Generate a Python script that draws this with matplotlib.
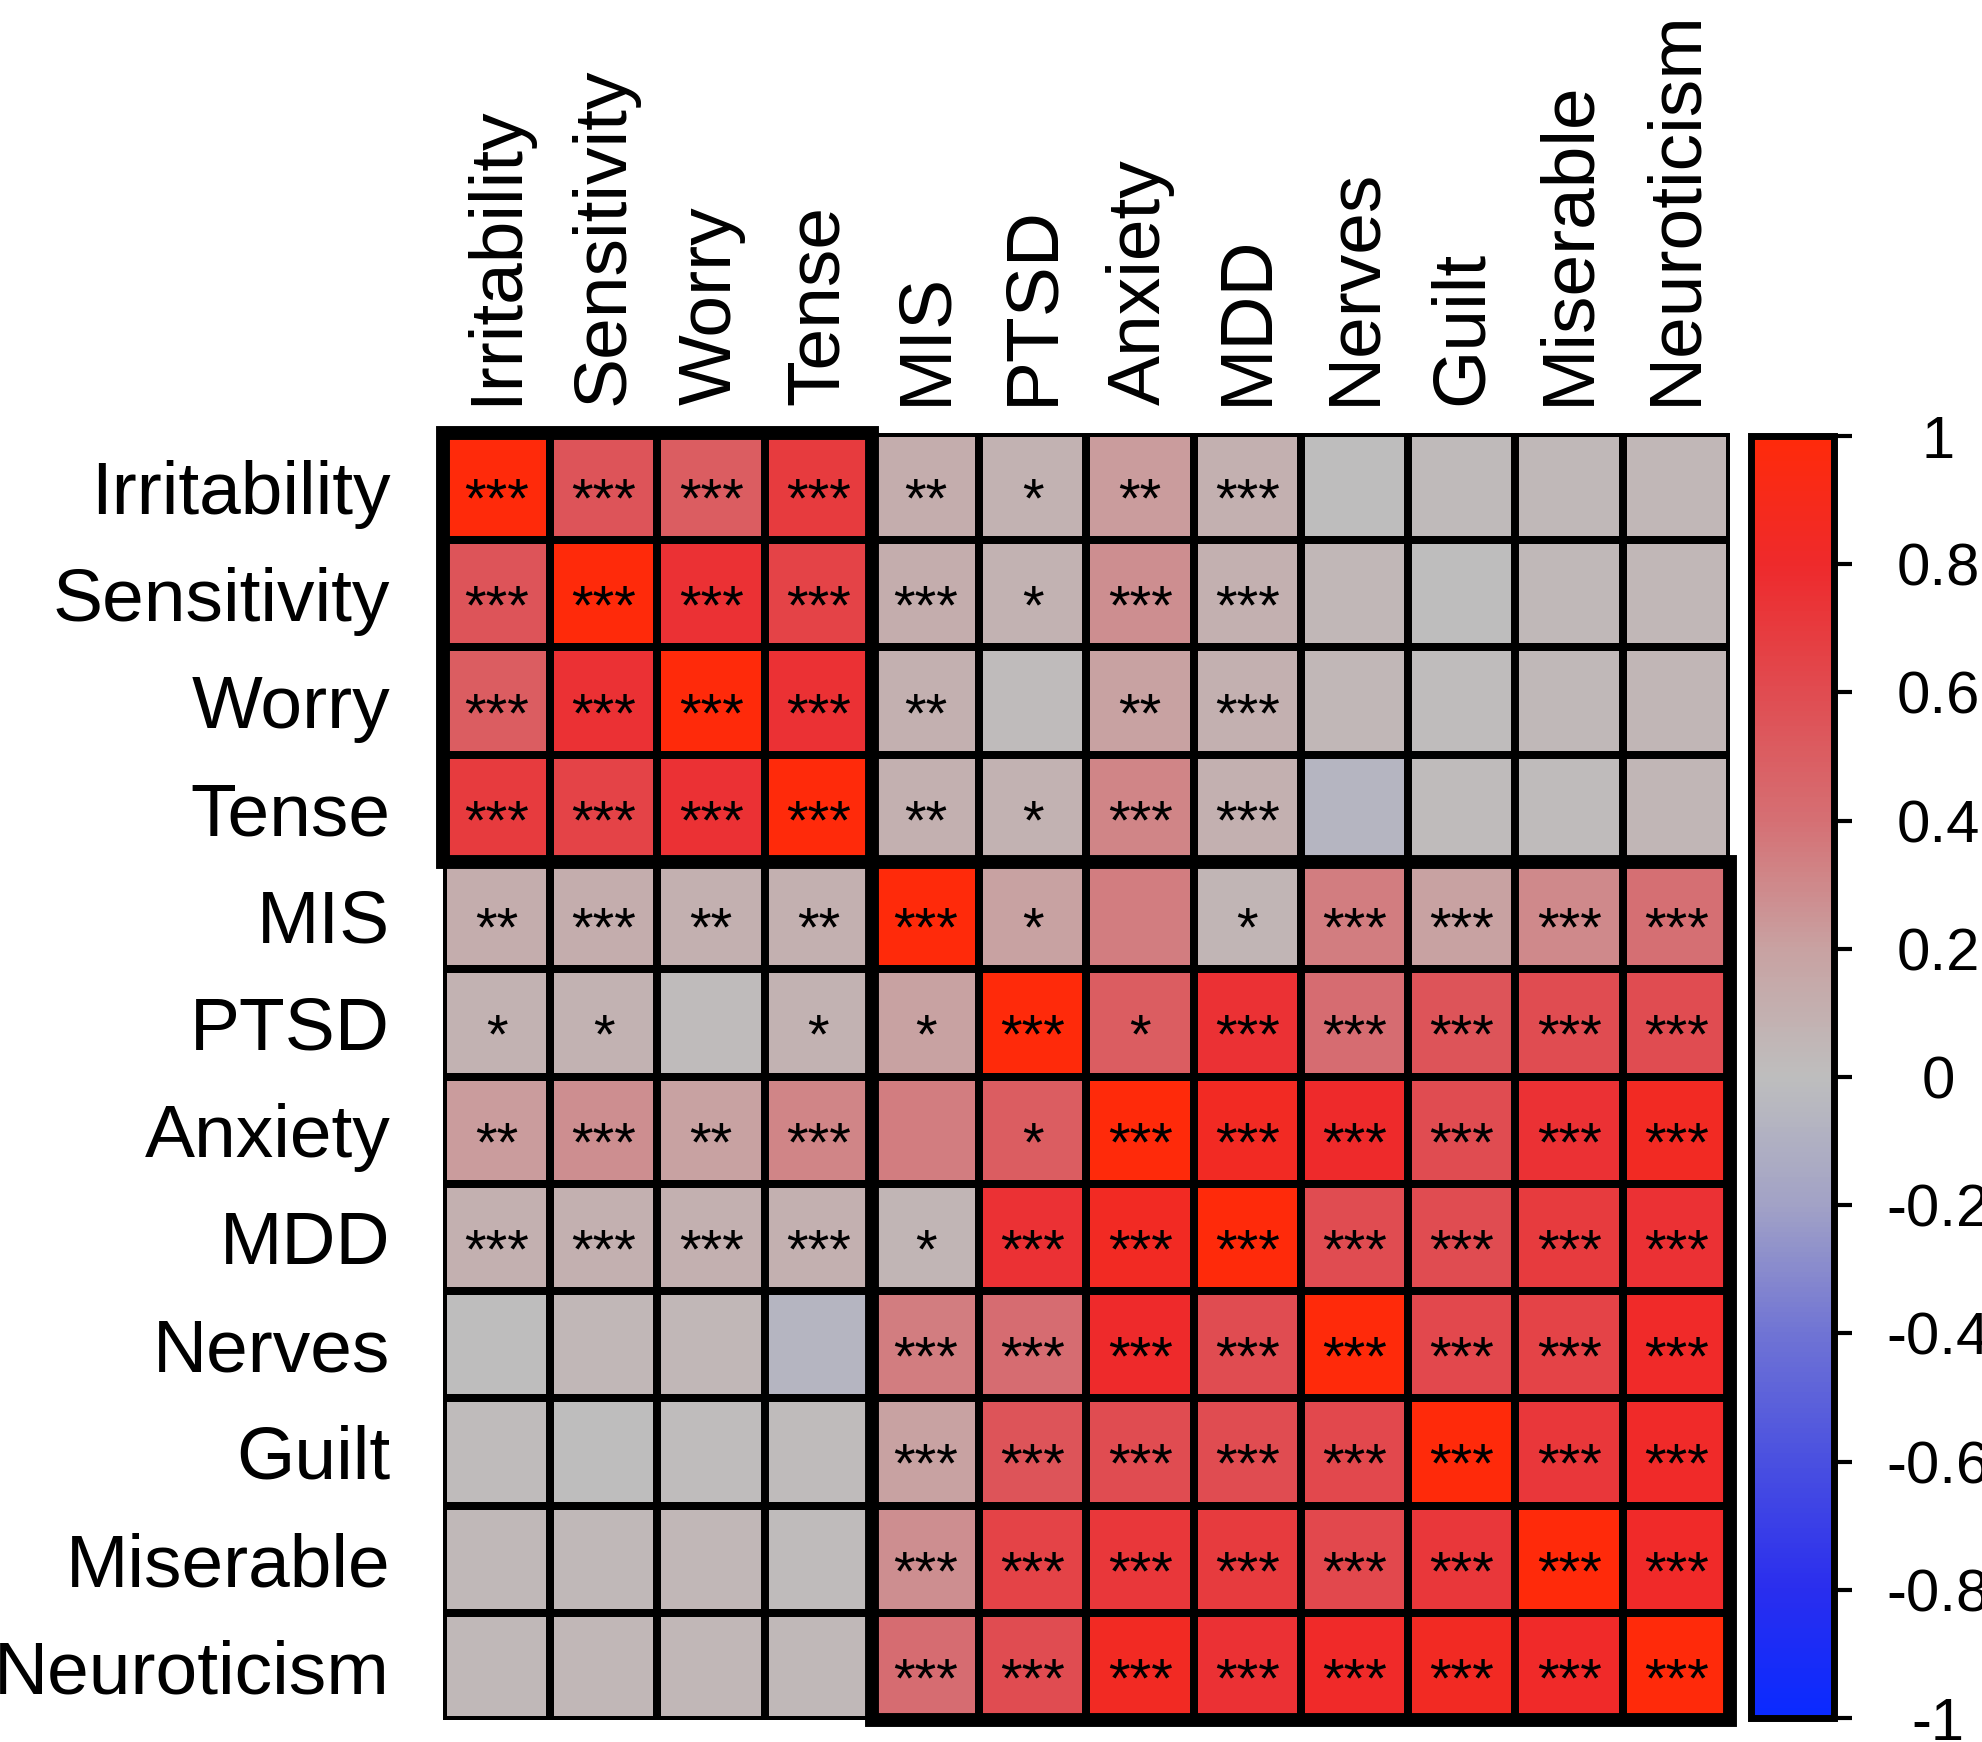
import numpy as np
import matplotlib
matplotlib.use("Agg")
import matplotlib.pyplot as plt
from matplotlib.colors import LinearSegmentedColormap
from matplotlib.patches import Rectangle
from matplotlib.ticker import FuncFormatter

plt.rcParams['font.family'] = ['Liberation Sans', 'DejaVu Sans']

labels = ["Irritability", "Sensitivity", "Worry", "Tense", "MIS", "PTSD",
          "Anxiety", "MDD", "Nerves", "Guilt", "Miserable", "Neuroticism"]

# correlation values (rows top to bottom)
corr = [
    [1.00, 0.55, 0.50, 0.70, 0.12, 0.08, 0.22, 0.10, 0.00, 0.03, 0.04, 0.05],
    [0.55, 1.00, 0.75, 0.65, 0.12, 0.08, 0.28, 0.10, 0.05, 0.00, 0.04, 0.05],
    [0.50, 0.75, 1.00, 0.75, 0.10, 0.02, 0.20, 0.10, 0.05, 0.01, 0.04, 0.06],
    [0.70, 0.65, 0.75, 1.00, 0.10, 0.08, 0.32, 0.10, -0.07, 0.02, 0.02, 0.06],
    [0.12, 0.12, 0.10, 0.10, 1.00, 0.20, 0.35, 0.07, 0.35, 0.20, 0.30, 0.40],
    [0.08, 0.08, 0.02, 0.08, 0.20, 1.00, 0.50, 0.75, 0.42, 0.55, 0.60, 0.60],
    [0.22, 0.28, 0.20, 0.32, 0.35, 0.50, 1.00, 0.85, 0.80, 0.60, 0.75, 0.85],
    [0.10, 0.10, 0.10, 0.10, 0.07, 0.75, 0.85, 1.00, 0.60, 0.60, 0.70, 0.75],
    [0.00, 0.05, 0.05, -0.07, 0.35, 0.42, 0.80, 0.60, 1.00, 0.62, 0.65, 0.82],
    [0.02, 0.00, 0.01, 0.02, 0.20, 0.55, 0.60, 0.60, 0.62, 1.00, 0.72, 0.82],
    [0.04, 0.04, 0.05, 0.02, 0.28, 0.65, 0.72, 0.70, 0.62, 0.72, 1.00, 0.82],
    [0.04, 0.05, 0.05, 0.04, 0.42, 0.60, 0.85, 0.75, 0.82, 0.85, 0.82, 1.00],
]

# significance level: number of stars
stars = [
    [3, 3, 3, 3, 2, 1, 2, 3, 0, 0, 0, 0],
    [3, 3, 3, 3, 3, 1, 3, 3, 0, 0, 0, 0],
    [3, 3, 3, 3, 2, 0, 2, 3, 0, 0, 0, 0],
    [3, 3, 3, 3, 2, 1, 3, 3, 0, 0, 0, 0],
    [2, 3, 2, 2, 3, 1, 0, 1, 3, 3, 3, 3],
    [1, 1, 0, 1, 1, 3, 1, 3, 3, 3, 3, 3],
    [2, 3, 2, 3, 0, 1, 3, 3, 3, 3, 3, 3],
    [3, 3, 3, 3, 1, 3, 3, 3, 3, 3, 3, 3],
    [0, 0, 0, 0, 3, 3, 3, 3, 3, 3, 3, 3],
    [0, 0, 0, 0, 3, 3, 3, 3, 3, 3, 3, 3],
    [0, 0, 0, 0, 3, 3, 3, 3, 3, 3, 3, 3],
    [0, 0, 0, 0, 3, 3, 3, 3, 3, 3, 3, 3],
]

cbar_ticks = [-1, -0.8, -0.6, -0.4, -0.2, 0, 0.2, 0.4, 0.6, 0.8, 1]

cmap = LinearSegmentedColormap.from_list("bgr", [
    (0.0, "#0a2aff"), (0.1, "#2a2eee"), (0.2, "#4a50e0"), (0.3, "#7074d4"),
    (0.4, "#a2a2c6"), (0.5, "#bebebe"), (0.6, "#c8a2a2"), (0.7, "#d57074"),
    (0.8, "#e04c51"), (0.9, "#ee2a2c"), (1.0, "#ff2a0a")])

fig = plt.figure(figsize=(19.83, 17.42), dpi=100)
ax = fig.add_axes([443 / 1983, 1 - 1720 / 1742, 1287 / 1983, 1287 / 1742])

data = np.array(corr)
n = len(labels)
mesh = ax.pcolormesh(data, cmap=cmap, vmin=-1, vmax=1,
                     edgecolors="black", linewidth=5.5)
ax.set_xlim(0, n)
ax.set_ylim(n, 0)
for s in ax.spines.values():
    s.set_visible(False)

for i in range(n):
    for j in range(n):
        if stars[i][j]:
            ax.text(j + 0.5, i + 0.78, "*" * stars[i][j], ha="center",
                    va="baseline", fontsize=40, color="black")

# thick outlines of the two diagonal blocks
ax.add_patch(Rectangle((0, 0), 4, 4, fill=False, lw=10, ec="black",
                       clip_on=False, zorder=5))
ax.add_patch(Rectangle((4, 4), 8, 8, fill=False, lw=10, ec="black",
                       clip_on=False, zorder=5))

ax.set_xticks(np.arange(n) + 0.5)
ax.set_yticks(np.arange(n) + 0.5)
ax.set_xticklabels(labels, rotation=90, fontsize=54)
ax.set_yticklabels(labels, fontsize=54)
ax.xaxis.tick_top()
ax.tick_params(axis="x", length=0, pad=20)
ax.tick_params(axis="y", length=0, pad=38)

cax = fig.add_axes([1751 / 1983, 1 - 1718 / 1742, 83 / 1983, 1282 / 1742])
cbar = fig.colorbar(mesh, cax=cax, ticks=cbar_ticks)


def fmt(v, pos):
    s = f"{round(v, 1):g}"
    return "0" if s == "-0" else s


cbar.ax.yaxis.set_major_formatter(FuncFormatter(fmt))
cbar.outline.set_linewidth(5)
cax.tick_params(length=13, width=3, direction="out", labelsize=43, pad=62)
for t in cax.get_yticklabels():
    t.set_ha("center")

fig.savefig("out.png", dpi=100)
